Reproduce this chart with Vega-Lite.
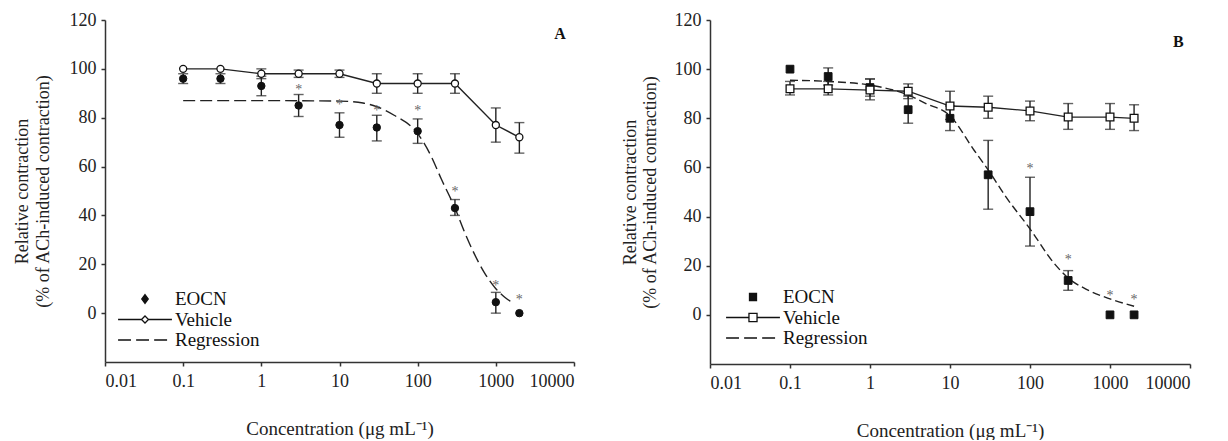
{
  "$schema": "https://vega.github.io/schema/vega-lite/v6.json",
  "background": "white",
  "padding": {"left": 13, "top": 11, "right": 5, "bottom": 0},
  "config": {
    "view": {"stroke": null},
    "font": "Liberation Serif",
    "axis": {
      "labelFont": "Liberation Serif", "titleFont": "Liberation Serif",
      "labelFontSize": 18, "titleFontSize": 18, "titleFontWeight": "normal",
      "labelColor": "#222", "titleColor": "#222",
      "domainColor": "#333", "domainWidth": 1.5, "tickColor": "#333", "tickWidth": 1.5, "tickSize": 4,
      "grid": false
    },
    "legend": {"labelFont": "Liberation Serif", "labelFontSize": 19, "labelColor": "#111", "padding": 0, "symbolStrokeWidth": 1.3, "symbolStrokeColor": "#111"}
  },
  "datasets": {
    "ptsA": [
      {"conc": 0.1, "val": 96, "lo": 94, "hi": 98, "series": "EOCN"},
      {"conc": 0.3, "val": 96, "lo": 94, "hi": 98, "series": "EOCN"},
      {"conc": 1, "val": 93, "lo": 89, "hi": 97, "series": "EOCN"},
      {"conc": 3, "val": 85, "lo": 80.5, "hi": 89.5, "series": "EOCN"},
      {"conc": 10, "val": 77, "lo": 72, "hi": 82, "series": "EOCN"},
      {"conc": 30, "val": 76, "lo": 70.5, "hi": 81, "series": "EOCN"},
      {"conc": 100, "val": 74.5, "lo": 69.5, "hi": 79.5, "series": "EOCN"},
      {"conc": 300, "val": 43, "lo": 40, "hi": 46.5, "series": "EOCN"},
      {"conc": 1000, "val": 4.5, "lo": 0, "hi": 8.5, "series": "EOCN"},
      {"conc": 2000, "val": 0, "lo": null, "hi": null, "series": "EOCN"},
      {"conc": 0.1, "val": 100, "lo": null, "hi": null, "series": "Vehicle"},
      {"conc": 0.3, "val": 100, "lo": null, "hi": null, "series": "Vehicle"},
      {"conc": 1, "val": 98, "lo": 96, "hi": 100, "series": "Vehicle"},
      {"conc": 3, "val": 98, "lo": 96.5, "hi": 99.5, "series": "Vehicle"},
      {"conc": 10, "val": 98, "lo": 96.5, "hi": 99.5, "series": "Vehicle"},
      {"conc": 30, "val": 94, "lo": 90, "hi": 98, "series": "Vehicle"},
      {"conc": 100, "val": 94, "lo": 90, "hi": 98, "series": "Vehicle"},
      {"conc": 300, "val": 94, "lo": 90, "hi": 98, "series": "Vehicle"},
      {"conc": 1000, "val": 77, "lo": 70, "hi": 84, "series": "Vehicle"},
      {"conc": 2000, "val": 72, "lo": 65.5, "hi": 78, "series": "Vehicle"}
    ],
    "regA": [
      {"conc": 0.1, "val": 87}, {"conc": 1, "val": 87}, {"conc": 10, "val": 86.8},
      {"conc": 20, "val": 86}, {"conc": 30, "val": 84.5}, {"conc": 50, "val": 81},
      {"conc": 100, "val": 73.5}, {"conc": 150, "val": 64}, {"conc": 200, "val": 55},
      {"conc": 300, "val": 43}, {"conc": 400, "val": 33}, {"conc": 500, "val": 26},
      {"conc": 700, "val": 17}, {"conc": 1000, "val": 10}, {"conc": 1300, "val": 6.5},
      {"conc": 1700, "val": 4}
    ],
    "starA": [
      {"conc": 3, "val": 92.5}, {"conc": 10, "val": 86.5}, {"conc": 30, "val": 84},
      {"conc": 100, "val": 84}, {"conc": 300, "val": 51}, {"conc": 1000, "val": 12.5},
      {"conc": 2000, "val": 6.5}
    ],
    "ptsB": [
      {"conc": 0.1, "val": 100, "lo": null, "hi": null, "series": "EOCN"},
      {"conc": 0.3, "val": 97, "lo": 93.5, "hi": 100.5, "series": "EOCN"},
      {"conc": 1, "val": 92.5, "lo": 89, "hi": 96, "series": "EOCN"},
      {"conc": 3, "val": 83.5, "lo": 78, "hi": 89, "series": "EOCN"},
      {"conc": 10, "val": 80, "lo": 75, "hi": 85, "series": "EOCN"},
      {"conc": 30, "val": 57, "lo": 43, "hi": 71, "series": "EOCN"},
      {"conc": 100, "val": 42, "lo": 28, "hi": 56, "series": "EOCN"},
      {"conc": 300, "val": 14, "lo": 10, "hi": 18, "series": "EOCN"},
      {"conc": 1000, "val": 0, "lo": null, "hi": null, "series": "EOCN"},
      {"conc": 2000, "val": 0, "lo": null, "hi": null, "series": "EOCN"},
      {"conc": 0.1, "val": 92, "lo": 89.5, "hi": 95, "series": "Vehicle"},
      {"conc": 0.3, "val": 92, "lo": 89.5, "hi": 95, "series": "Vehicle"},
      {"conc": 1, "val": 91.5, "lo": 87.5, "hi": 96, "series": "Vehicle"},
      {"conc": 3, "val": 91, "lo": 88, "hi": 94, "series": "Vehicle"},
      {"conc": 10, "val": 85, "lo": 79.5, "hi": 91, "series": "Vehicle"},
      {"conc": 30, "val": 84.5, "lo": 80, "hi": 89, "series": "Vehicle"},
      {"conc": 100, "val": 83, "lo": 79, "hi": 87, "series": "Vehicle"},
      {"conc": 300, "val": 80.5, "lo": 75.5, "hi": 86, "series": "Vehicle"},
      {"conc": 1000, "val": 80.5, "lo": 75.5, "hi": 86, "series": "Vehicle"},
      {"conc": 2000, "val": 80, "lo": 75, "hi": 85.5, "series": "Vehicle"}
    ],
    "regB": [
      {"conc": 0.1, "val": 95.5}, {"conc": 0.3, "val": 95}, {"conc": 1, "val": 93.5},
      {"conc": 3, "val": 89.5}, {"conc": 5, "val": 86}, {"conc": 10, "val": 81},
      {"conc": 20, "val": 67}, {"conc": 30, "val": 59}, {"conc": 50, "val": 48},
      {"conc": 100, "val": 35}, {"conc": 200, "val": 21}, {"conc": 300, "val": 15},
      {"conc": 500, "val": 10.5}, {"conc": 1000, "val": 6.5}, {"conc": 2000, "val": 3.5}
    ],
    "starB": [
      {"conc": 100, "val": 60.5}, {"conc": 300, "val": 23.5}, {"conc": 1000, "val": 8.8},
      {"conc": 2000, "val": 7.2}
    ]
  },
  "spacing": 46,
  "resolve": {
    "scale": {"shape": "independent", "fill": "independent", "stroke": "independent", "x": "independent", "y": "independent"},
    "legend": {"shape": "independent", "fill": "independent", "stroke": "independent"}
  },
  "hconcat": [
    {
      "width": 469, "height": 342,
      "title": {"text": "A", "anchor": "end", "orient": "top", "offset": -31, "dx": -9, "fontSize": 16, "fontWeight": "bold", "font": "Liberation Serif", "color": "#111"},
      "layer": [
        {
          "data": {"name": "ptsA"},
          "transform": [{"filter": "isValid(datum.lo)"}],
          "mark": {"type": "errorbar", "ticks": {"size": 10}, "color": "#222", "thickness": 1.4},
          "encoding": {
            "x": {"field": "conc", "type": "quantitative", "scale": {"type": "log", "domain": [0.01, 10000]},
              "axis": {"values": [0.01, 0.1, 1, 10, 100, 1000, 10000], "format": "~g", "title": "Concentration (μg mL⁻¹)", "titleFontSize": 19, "titlePadding": 29, "labelPadding": 6}},
            "y": {"field": "lo", "type": "quantitative", "scale": {"domain": [-20, 120], "nice": false},
              "axis": {"values": [0, 20, 40, 60, 80, 100, 120], "title": ["Relative contraction", "(% of ACh-induced contraction)"], "titlePadding": 17, "titleLineHeight": 21, "labelPadding": 5}},
            "y2": {"field": "hi"}
          }
        },
        {
          "data": {"name": "ptsA"},
          "transform": [{"filter": "datum.series === 'Vehicle'"}],
          "mark": {"type": "line", "color": "#222", "strokeWidth": 1.4},
          "encoding": {"x": {"field": "conc", "type": "quantitative"}, "y": {"field": "val", "type": "quantitative"}}
        },
        {
          "data": {"name": "regA"},
          "mark": {"type": "line", "color": "#222", "strokeWidth": 1.4, "strokeDash": [12, 5], "interpolate": "monotone"},
          "encoding": {"x": {"field": "conc", "type": "quantitative"}, "y": {"field": "val", "type": "quantitative"}}
        },
        {
          "data": {"name": "ptsA"},
          "transform": [{"filter": "datum.series === 'EOCN'"}],
          "mark": {"type": "point", "shape": "circle", "filled": true, "fill": "#111", "stroke": "#111", "strokeWidth": 1, "size": 55, "opacity": 1},
          "encoding": {"x": {"field": "conc", "type": "quantitative"}, "y": {"field": "val", "type": "quantitative"}}
        },
        {
          "data": {"name": "ptsA"},
          "transform": [{"filter": "datum.series === 'Vehicle'"}],
          "mark": {"type": "point", "shape": "circle", "filled": true, "fill": "white", "stroke": "#111", "strokeWidth": 1.3, "size": 50, "opacity": 1},
          "encoding": {"x": {"field": "conc", "type": "quantitative"}, "y": {"field": "val", "type": "quantitative"}}
        },
        {
          "data": {"name": "ptsA"},
          "transform": [{"filter": "false"}],
          "mark": {"type": "point", "filled": true, "strokeWidth": 1.3, "opacity": 1},
          "encoding": {
            "x": {"field": "conc", "type": "quantitative"},
            "y": {"field": "val", "type": "quantitative"},
            "shape": {"field": "series", "type": "nominal",
              "scale": {"domain": ["EOCN", "Vehicle", "Regression"],
                "range": ["M0,-0.16L0.12,0L0,0.16L-0.12,0Z", "M-1,0L-0.13,0M0.13,0L1,0M0,-0.13L0.13,0L0,0.13L-0.13,0Z", "M-1,0L-0.52,0M-0.33,0L0.15,0M0.34,0L0.82,0"]},
              "legend": {"orient": "none", "legendX": 12, "legendY": 269, "title": null, "symbolSize": 2900, "clipHeight": 20, "labelOffset": 2, "rowPadding": 0.5, "symbolOpacity": 1}},
            "fill": {"field": "series", "type": "nominal",
              "scale": {"domain": ["EOCN", "Vehicle", "Regression"], "range": ["#111", "white", "transparent"]},
              "legend": {"orient": "none", "legendX": 12, "legendY": 269, "title": null, "symbolSize": 2900, "clipHeight": 20, "labelOffset": 2, "rowPadding": 0.5, "symbolOpacity": 1}},
            "stroke": {"field": "series", "type": "nominal",
              "scale": {"domain": ["EOCN", "Vehicle", "Regression"], "range": ["#111", "#111", "#111"]},
              "legend": {"orient": "none", "legendX": 12, "legendY": 269, "title": null, "symbolSize": 2900, "clipHeight": 20, "labelOffset": 2, "rowPadding": 0.5, "symbolOpacity": 1}}
          }
        },
        {
          "data": {"name": "starA"},
          "mark": {"type": "text", "text": "*", "fontSize": 14, "color": "#666", "baseline": "middle", "dy": 3},
          "encoding": {"x": {"field": "conc", "type": "quantitative"}, "y": {"field": "val", "type": "quantitative"}}
        }
      ]
    },
    {
      "width": 480, "height": 344,
      "title": {"text": "B", "anchor": "end", "orient": "top", "offset": -39, "dx": -7, "fontSize": 16, "fontWeight": "bold", "font": "Liberation Serif", "color": "#111"},
      "layer": [
        {
          "data": {"name": "ptsB"},
          "transform": [{"filter": "isValid(datum.lo)"}],
          "mark": {"type": "errorbar", "ticks": {"size": 10}, "color": "#222", "thickness": 1.4},
          "encoding": {
            "x": {"field": "conc", "type": "quantitative", "scale": {"type": "log", "domain": [0.01, 10000]},
              "axis": {"values": [0.01, 0.1, 1, 10, 100, 1000, 10000], "format": "~g", "title": "Concentration (μg mL⁻¹)", "titleFontSize": 19, "titlePadding": 29, "labelPadding": 6}},
            "y": {"field": "lo", "type": "quantitative", "scale": {"domain": [-20, 120], "nice": false},
              "axis": {"values": [0, 20, 40, 60, 80, 100, 120], "title": ["Relative contraction", "(% of ACh-induced contraction)"], "titlePadding": 15, "titleLineHeight": 20, "labelPadding": 5}},
            "y2": {"field": "hi"}
          }
        },
        {
          "data": {"name": "ptsB"},
          "transform": [{"filter": "datum.series === 'Vehicle'"}],
          "mark": {"type": "line", "color": "#222", "strokeWidth": 1.3},
          "encoding": {"x": {"field": "conc", "type": "quantitative"}, "y": {"field": "val", "type": "quantitative"}}
        },
        {
          "data": {"name": "regB"},
          "mark": {"type": "line", "color": "#222", "strokeWidth": 1.4, "strokeDash": [8, 4], "interpolate": "monotone"},
          "encoding": {"x": {"field": "conc", "type": "quantitative"}, "y": {"field": "val", "type": "quantitative"}}
        },
        {
          "data": {"name": "ptsB"},
          "transform": [{"filter": "datum.series === 'EOCN'"}],
          "mark": {"type": "point", "shape": "square", "filled": true, "fill": "#111", "stroke": "#111", "strokeWidth": 1, "size": 60, "opacity": 1},
          "encoding": {"x": {"field": "conc", "type": "quantitative"}, "y": {"field": "val", "type": "quantitative"}}
        },
        {
          "data": {"name": "ptsB"},
          "transform": [{"filter": "datum.series === 'Vehicle'"}],
          "mark": {"type": "point", "shape": "square", "filled": true, "fill": "white", "stroke": "#111", "strokeWidth": 1.3, "size": 60, "opacity": 1},
          "encoding": {"x": {"field": "conc", "type": "quantitative"}, "y": {"field": "val", "type": "quantitative"}}
        },
        {
          "data": {"name": "ptsB"},
          "transform": [{"filter": "false"}],
          "mark": {"type": "point", "filled": true, "strokeWidth": 1.3, "opacity": 1},
          "encoding": {
            "x": {"field": "conc", "type": "quantitative"},
            "y": {"field": "val", "type": "quantitative"},
            "shape": {"field": "series", "type": "nominal",
              "scale": {"domain": ["EOCN", "Vehicle", "Regression"],
                "range": ["M-0.13,-0.13L0.13,-0.13L0.13,0.13L-0.13,0.13Z", "M-1,0L-0.15,0M0.15,0L1,0M-0.15,-0.15L0.15,-0.15L0.15,0.15L-0.15,0.15Z", "M-1,0L-0.52,0M-0.33,0L0.15,0M0.34,0L0.82,0"]},
              "legend": {"orient": "none", "legendX": 15, "legendY": 267, "title": null, "symbolSize": 2900, "clipHeight": 20, "labelOffset": 2, "rowPadding": 0.5, "symbolOpacity": 1}},
            "fill": {"field": "series", "type": "nominal",
              "scale": {"domain": ["EOCN", "Vehicle", "Regression"], "range": ["#111", "white", "transparent"]},
              "legend": {"orient": "none", "legendX": 15, "legendY": 267, "title": null, "symbolSize": 2900, "clipHeight": 20, "labelOffset": 2, "rowPadding": 0.5, "symbolOpacity": 1}},
            "stroke": {"field": "series", "type": "nominal",
              "scale": {"domain": ["EOCN", "Vehicle", "Regression"], "range": ["#111", "#111", "#111"]},
              "legend": {"orient": "none", "legendX": 15, "legendY": 267, "title": null, "symbolSize": 2900, "clipHeight": 20, "labelOffset": 2, "rowPadding": 0.5, "symbolOpacity": 1}}
          }
        },
        {
          "data": {"name": "starB"},
          "mark": {"type": "text", "text": "*", "fontSize": 14, "color": "#666", "baseline": "middle", "dy": 3},
          "encoding": {"x": {"field": "conc", "type": "quantitative"}, "y": {"field": "val", "type": "quantitative"}}
        }
      ]
    }
  ]
}
